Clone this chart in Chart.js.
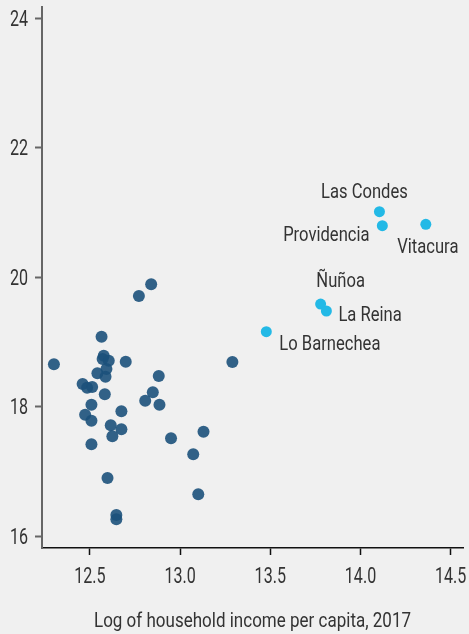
<!DOCTYPE html>
<html>
<head>
  <meta charset="UTF-8">
  <title>Income vs outcome</title>
  <script src="https://cdn.jsdelivr.net/npm/chart.js@4/dist/chart.umd.min.js"></script>
  <style>
    body { margin: 0; background: #f0f0f0; }
    #wrap { width: 469px; height: 634px; }
  </style>
</head>
<body>
  <div id="wrap"><canvas id="scatter"></canvas></div>

  <script>
    // other municipalities
    const otherX = [12.84, 12.772, 12.565, 12.577, 12.571, 12.605, 12.699, 12.301, 13.29, 12.592,
                    12.542, 12.587, 12.882, 12.46, 12.485, 12.513, 12.583, 12.849, 12.807, 12.886,
                    12.509, 12.675, 12.474, 12.509, 12.616, 12.675, 13.13, 12.625, 12.95, 12.509,
                    13.073, 12.598, 13.101, 12.647, 12.647];
    const otherY = [19.887, 19.707, 19.078, 18.785, 18.734, 18.707, 18.692, 18.652, 18.687, 18.579,
                    18.513, 18.46, 18.471, 18.347, 18.29, 18.301, 18.188, 18.219, 18.09, 18.028,
                    18.028, 17.926, 17.873, 17.781, 17.71, 17.648, 17.611, 17.54, 17.509, 17.416,
                    17.262, 16.896, 16.644, 16.324, 16.258];

    // highlighted municipalities
    const highNames = ["Las Condes", "Providencia", "Vitacura", "Ñuñoa", "La Reina", "Lo Barnechea"];
    const highX = [14.105, 14.121, 14.362, 13.779, 13.811, 13.478];
    const highY = [21.009, 20.793, 20.814, 19.583, 19.475, 19.155];

    const xTicks = [12.5, 13.0, 13.5, 14.0, 14.5];
    const yTicks = [16, 18, 20, 22, 24];
    const xTitle = "Log of household income per capita, 2017";

    // label offsets in px from the point to the text baseline: dx, dy, alignment
    const labelPlacement = [
      [-15, -14, "center"],
      [-56, 15, "center"],
      [2, 29, "center"],
      [20, -17, "center"],
      [12, 10, "left"],
      [13, 18, "left"]
    ];

    // the original uses a condensed face, so squeeze Roboto horizontally
    function narrowText(ctx, text, x, y, align, sx) {
      ctx.save();
      ctx.translate(x, y);
      ctx.scale(sx, 1);
      ctx.textAlign = align;
      ctx.fillText(text, 0, 0);
      ctx.restore();
    }

    const textLayer = {
      id: "textLayer",
      afterDraw(chart) {
        const ctx = chart.ctx;
        const xs = chart.scales.x, ys = chart.scales.y;
        ctx.save();
        ctx.fillStyle = "#333";
        ctx.textBaseline = "alphabetic";

        ctx.font = "22px Roboto";
        xs.ticks.forEach(t => {
          narrowText(ctx, t.value.toFixed(1), xs.getPixelForValue(t.value), 583, "center", 0.73);
        });
        ys.ticks.forEach(t => {
          narrowText(ctx, String(t.value), 28, ys.getPixelForValue(t.value) + 7.5, "right", 0.73);
        });

        ctx.font = "21px Roboto";
        narrowText(ctx, xTitle, (chart.chartArea.left + chart.chartArea.right) / 2, 627, "center", 0.81);

        const pts = chart.getDatasetMeta(1).data;
        pts.forEach((p, i) => {
          const [dx, dy, align] = labelPlacement[i];
          narrowText(ctx, highNames[i], p.x + dx, p.y + dy, align, 0.79);
        });
        ctx.restore();
      }
    };

    new Chart(document.getElementById("scatter"), {
      type: "scatter",
      data: {
        datasets: [
          {
            data: otherX.map((x, i) => ({ x: x, y: otherY[i] })),
            backgroundColor: "rgba(28,81,123,0.9)",
            borderWidth: 0,
            pointRadius: 6,
            pointHoverRadius: 6
          },
          {
            data: highX.map((x, i) => ({ x: x, y: highY[i] })),
            backgroundColor: "#23b9e6",
            borderWidth: 0,
            pointRadius: 5.5,
            pointHoverRadius: 5.5
          }
        ]
      },
      options: {
        responsive: true,
        maintainAspectRatio: false,
        animation: false,
        layout: { padding: { top: 7, right: 4, left: 0, bottom: 0 } },
        plugins: { legend: { display: false }, tooltip: { enabled: false } },
        scales: {
          x: {
            type: "linear",
            min: 12.235,
            max: 14.568,
            afterBuildTicks: s => { s.ticks = xTicks.map(v => ({ value: v })); },
            afterFit: s => { s.height = 86; },
            border: { color: "#111", width: 1.5 },
            grid: { drawOnChartArea: false, tickLength: 7, tickColor: "#111", tickWidth: 1.5 },
            ticks: { display: false }
          },
          y: {
            type: "linear",
            min: 15.815,
            max: 24.17,
            afterBuildTicks: s => { s.ticks = yTicks.map(v => ({ value: v })); },
            afterFit: s => { s.width = 42; },
            border: { color: "#666", width: 2 },
            grid: { drawOnChartArea: false, tickLength: 7, tickColor: "#666", tickWidth: 2 },
            ticks: { display: false }
          }
        }
      },
      plugins: [textLayer]
    });
  </script>
</body>
</html>
